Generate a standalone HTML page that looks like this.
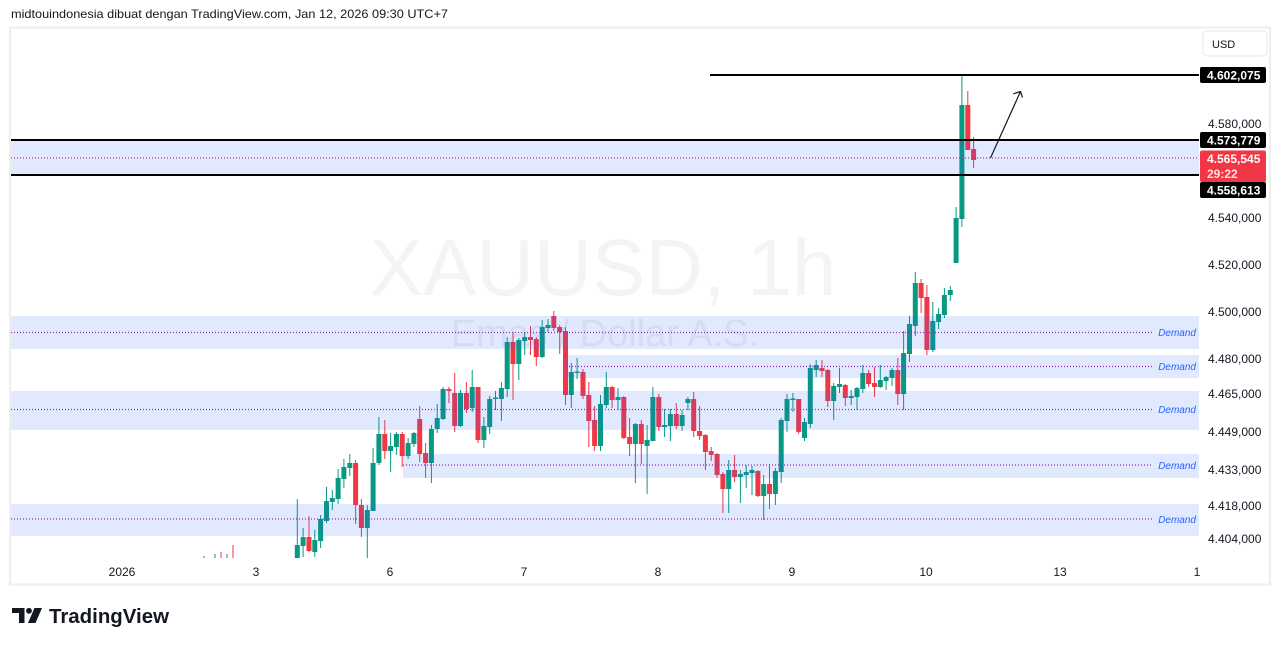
<!DOCTYPE html>
<html><head><meta charset="utf-8"><style>
html,body{margin:0;padding:0;background:#fff;}
svg{display:block;font-family:"Liberation Sans",Arial,sans-serif;}
</style></head><body>
<svg width="1281" height="646" viewBox="0 0 1281 646" xmlns="http://www.w3.org/2000/svg">
<defs><clipPath id="plot"><rect x="11" y="28" width="1188" height="530"/></clipPath></defs>
<rect width="1281" height="646" fill="#fff"/>
<text x="11" y="18" font-size="12" fill="#131722" textLength="437" lengthAdjust="spacingAndGlyphs">midtouindonesia dibuat dengan TradingView.com, Jan 12, 2026 09:30 UTC+7</text>
<rect x="10" y="27.5" width="1260" height="557" fill="none" stroke="#eeeeee" stroke-width="2"/>
<g clip-path="url(#plot)">
<text x="603" y="295" font-size="80" fill="#f4f4f4" text-anchor="middle">XAUUSD, 1h</text>
<text x="605" y="346" font-size="38" fill="#f0f0f0" text-anchor="middle">Emas / Dollar A.S.</text>
<g fill="#089981">
<rect x="203.5" y="556" width="1" height="2"/><rect x="214.5" y="554" width="1" height="4"/><rect x="226.5" y="554" width="1" height="4"/>
<rect x="294.8" y="545" width="5" height="13"/><rect x="296.8" y="499" width="1" height="59"/>
<rect x="300.6" y="537" width="5" height="9"/><rect x="302.6" y="528" width="1" height="29"/>
<rect x="312.3" y="540" width="5" height="12"/><rect x="314.3" y="530" width="1" height="27"/>
<rect x="318.1" y="519" width="5" height="22"/><rect x="320.1" y="515" width="1" height="33"/>
<rect x="324" y="501" width="5" height="20"/><rect x="326" y="487" width="1" height="36"/>
<rect x="329.8" y="498" width="5" height="4"/><rect x="331.8" y="490" width="1" height="20"/>
<rect x="335.6" y="478" width="5" height="21"/><rect x="337.6" y="469" width="1" height="35"/>
<rect x="341.4" y="467" width="5" height="12"/><rect x="343.4" y="459" width="1" height="29"/>
<rect x="347.3" y="463" width="5" height="5"/><rect x="349.3" y="454" width="1" height="22"/>
<rect x="364.8" y="510" width="5" height="18"/><rect x="366.8" y="505" width="1" height="53"/>
<rect x="370.6" y="463" width="5" height="48"/><rect x="372.6" y="448" width="1" height="63"/>
<rect x="376.4" y="434" width="5" height="29"/><rect x="378.4" y="417" width="1" height="48"/>
<rect x="388.1" y="446" width="5" height="5"/><rect x="390.1" y="433" width="1" height="39"/>
<rect x="393.9" y="434" width="5" height="13"/><rect x="395.9" y="432" width="1" height="23"/>
<rect x="405.6" y="443" width="5" height="13"/><rect x="407.6" y="438" width="1" height="21"/>
<rect x="411.4" y="433" width="5" height="11"/><rect x="413.4" y="432" width="1" height="15"/>
<rect x="428.9" y="429" width="5" height="34"/><rect x="430.9" y="425" width="1" height="58"/>
<rect x="434.7" y="418" width="5" height="11"/><rect x="436.7" y="404" width="1" height="29"/>
<rect x="440.6" y="389" width="5" height="30"/><rect x="442.6" y="387" width="1" height="33"/>
<rect x="458" y="393" width="5" height="33"/><rect x="460" y="390" width="1" height="37"/>
<rect x="469.7" y="387" width="5" height="21"/><rect x="471.7" y="370" width="1" height="42"/>
<rect x="481.4" y="426" width="5" height="14"/><rect x="483.4" y="417" width="1" height="31"/>
<rect x="487.2" y="399" width="5" height="28"/><rect x="489.2" y="396" width="1" height="38"/>
<rect x="493" y="397.5" width="5" height="1.5"/><rect x="495" y="391" width="1" height="19"/>
<rect x="498.9" y="388" width="5" height="11"/><rect x="500.9" y="382" width="1" height="39"/>
<rect x="504.7" y="342" width="5" height="47"/><rect x="506.7" y="337" width="1" height="60"/>
<rect x="516.3" y="340" width="5" height="24"/><rect x="518.3" y="338" width="1" height="42"/>
<rect x="522.2" y="337" width="5" height="4"/><rect x="524.2" y="332" width="1" height="23"/>
<rect x="539.7" y="327" width="5" height="30"/><rect x="541.7" y="320" width="1" height="38"/>
<rect x="545.5" y="325" width="5" height="3"/><rect x="547.5" y="319" width="1" height="13"/>
<rect x="568.8" y="372" width="5" height="23"/><rect x="570.8" y="363" width="1" height="45"/>
<rect x="574.6" y="371.5" width="5" height="1.5"/><rect x="576.6" y="358" width="1" height="21"/>
<rect x="598" y="404" width="5" height="42"/><rect x="600" y="395" width="1" height="56"/>
<rect x="603.8" y="387" width="5" height="18"/><rect x="605.8" y="372" width="1" height="36"/>
<rect x="615.5" y="397" width="5" height="3"/><rect x="617.5" y="388" width="1" height="22"/>
<rect x="632.9" y="424" width="5" height="20"/><rect x="634.9" y="423" width="1" height="60"/>
<rect x="644.6" y="440" width="5" height="6"/><rect x="646.6" y="425" width="1" height="69"/>
<rect x="650.4" y="397" width="5" height="44"/><rect x="652.4" y="387" width="1" height="54"/>
<rect x="662.1" y="425" width="5" height="2"/><rect x="664.1" y="409" width="1" height="28"/>
<rect x="667.9" y="414" width="5" height="12"/><rect x="669.9" y="409" width="1" height="32"/>
<rect x="679.6" y="415" width="5" height="11"/><rect x="681.6" y="410" width="1" height="21"/>
<rect x="685.4" y="399" width="5" height="4"/><rect x="687.4" y="397" width="1" height="13"/>
<rect x="726.2" y="470" width="5" height="19"/><rect x="728.2" y="460" width="1" height="53"/>
<rect x="737.9" y="474" width="5" height="3"/><rect x="739.9" y="470" width="1" height="33"/>
<rect x="743.7" y="472" width="5" height="3"/><rect x="745.7" y="465" width="1" height="23"/>
<rect x="749.5" y="470" width="5" height="3"/><rect x="751.5" y="466" width="1" height="29"/>
<rect x="761.2" y="484" width="5" height="12"/><rect x="763.2" y="475" width="1" height="45"/>
<rect x="772.9" y="471" width="5" height="23"/><rect x="774.9" y="468" width="1" height="37"/>
<rect x="778.7" y="420" width="5" height="52"/><rect x="780.7" y="418" width="1" height="65"/>
<rect x="784.5" y="399" width="5" height="22"/><rect x="786.5" y="394" width="1" height="38"/>
<rect x="790.4" y="398.5" width="5" height="1.5"/><rect x="792.4" y="393" width="1" height="19"/>
<rect x="802" y="422" width="5" height="16"/><rect x="804" y="418" width="1" height="23"/>
<rect x="807.8" y="368" width="5" height="56"/><rect x="809.8" y="364" width="1" height="64"/>
<rect x="813.7" y="365" width="5" height="5"/><rect x="815.7" y="360" width="1" height="17"/>
<rect x="831.2" y="386" width="5" height="15"/><rect x="833.2" y="383" width="1" height="37"/>
<rect x="837" y="384" width="5" height="3"/><rect x="839" y="368" width="1" height="25"/>
<rect x="848.7" y="396" width="5" height="2"/><rect x="850.7" y="390" width="1" height="15"/>
<rect x="854.5" y="388" width="5" height="9"/><rect x="856.5" y="387" width="1" height="23"/>
<rect x="860.3" y="373" width="5" height="16"/><rect x="862.3" y="365" width="1" height="28"/>
<rect x="877.8" y="380" width="5" height="7"/><rect x="879.8" y="365" width="1" height="23"/>
<rect x="883.6" y="377" width="5" height="4"/><rect x="885.6" y="376" width="1" height="14"/>
<rect x="889.5" y="370" width="5" height="8"/><rect x="891.5" y="368" width="1" height="18"/>
<rect x="901.1" y="353" width="5" height="41"/><rect x="903.1" y="331" width="1" height="79"/>
<rect x="907" y="324" width="5" height="30"/><rect x="909" y="316" width="1" height="46"/>
<rect x="912.8" y="283" width="5" height="43"/><rect x="914.8" y="272" width="1" height="64"/>
<rect x="930.3" y="321" width="5" height="29"/><rect x="932.3" y="302" width="1" height="50"/>
<rect x="936.1" y="314" width="5" height="8"/><rect x="938.1" y="308" width="1" height="21"/>
<rect x="941.9" y="295" width="5" height="20"/><rect x="943.9" y="288" width="1" height="30"/>
<rect x="947.8" y="290" width="5" height="5"/><rect x="949.8" y="286" width="1" height="15"/>
<rect x="953.6" y="218" width="5" height="45"/><rect x="955.6" y="207" width="1" height="56"/>
<rect x="959.4" y="105" width="5" height="114"/><rect x="961.4" y="75" width="1" height="152"/>
</g>
<g fill="#f23645">
<rect x="220.5" y="552" width="1" height="6"/><rect x="232.5" y="545" width="1" height="13"/>
<rect x="306.5" y="537" width="5" height="14"/><rect x="308.5" y="516" width="1" height="36"/>
<rect x="353.1" y="463" width="5" height="42"/><rect x="355.1" y="460" width="1" height="64"/>
<rect x="358.9" y="505" width="5" height="23"/><rect x="360.9" y="499" width="1" height="38"/>
<rect x="382.3" y="434" width="5" height="17"/><rect x="384.3" y="420" width="1" height="39"/>
<rect x="399.7" y="434" width="5" height="22"/><rect x="401.7" y="432" width="1" height="35"/>
<rect x="417.2" y="419" width="5" height="35"/><rect x="419.2" y="406" width="1" height="56"/>
<rect x="423.1" y="453" width="5" height="10"/><rect x="425.1" y="443" width="1" height="35"/>
<rect x="446.4" y="389" width="5" height="2"/><rect x="448.4" y="387" width="1" height="16"/>
<rect x="452.2" y="393" width="5" height="33"/><rect x="454.2" y="373" width="1" height="59"/>
<rect x="463.9" y="393" width="5" height="16"/><rect x="465.9" y="382" width="1" height="31"/>
<rect x="475.5" y="387" width="5" height="53"/><rect x="477.5" y="387" width="1" height="56"/>
<rect x="510.5" y="342" width="5" height="22"/><rect x="512.5" y="332" width="1" height="68"/>
<rect x="528" y="337" width="5" height="3"/><rect x="530" y="326" width="1" height="29"/>
<rect x="533.8" y="339" width="5" height="18"/><rect x="535.8" y="337" width="1" height="29"/>
<rect x="551.3" y="316" width="5" height="12"/><rect x="553.3" y="311" width="1" height="20"/>
<rect x="557.2" y="327" width="5" height="5"/><rect x="559.2" y="325" width="1" height="29"/>
<rect x="563" y="331" width="5" height="64"/><rect x="565" y="327" width="1" height="78"/>
<rect x="580.5" y="372" width="5" height="24"/><rect x="582.5" y="369" width="1" height="30"/>
<rect x="586.3" y="395" width="5" height="26"/><rect x="588.3" y="382" width="1" height="65"/>
<rect x="592.1" y="420" width="5" height="26"/><rect x="594.1" y="406" width="1" height="45"/>
<rect x="609.6" y="387" width="5" height="13"/><rect x="611.6" y="386" width="1" height="22"/>
<rect x="621.3" y="397" width="5" height="41"/><rect x="623.3" y="396" width="1" height="43"/>
<rect x="627.1" y="437" width="5" height="7"/><rect x="629.1" y="418" width="1" height="38"/>
<rect x="638.8" y="424" width="5" height="20"/><rect x="640.8" y="420" width="1" height="44"/>
<rect x="656.3" y="397" width="5" height="30"/><rect x="658.3" y="394" width="1" height="37"/>
<rect x="673.8" y="414" width="5" height="12"/><rect x="675.8" y="403" width="1" height="26"/>
<rect x="691.2" y="399" width="5" height="32"/><rect x="693.2" y="392" width="1" height="45"/>
<rect x="697.1" y="431" width="5" height="5"/><rect x="699.1" y="406" width="1" height="34"/>
<rect x="702.9" y="435" width="5" height="17"/><rect x="704.9" y="434" width="1" height="36"/>
<rect x="708.7" y="451" width="5" height="4"/><rect x="710.7" y="447" width="1" height="14"/>
<rect x="714.6" y="454" width="5" height="21"/><rect x="716.6" y="453" width="1" height="25"/>
<rect x="720.4" y="474" width="5" height="15"/><rect x="722.4" y="472" width="1" height="41"/>
<rect x="732.1" y="470" width="5" height="7"/><rect x="734.1" y="455" width="1" height="27"/>
<rect x="755.4" y="471" width="5" height="25"/><rect x="757.4" y="470" width="1" height="27"/>
<rect x="767" y="484" width="5" height="10"/><rect x="769" y="464" width="1" height="45"/>
<rect x="796.2" y="399" width="5" height="33"/><rect x="798.2" y="399" width="1" height="35"/>
<rect x="819.5" y="368" width="5" height="3"/><rect x="821.5" y="360" width="1" height="17"/>
<rect x="825.3" y="370" width="5" height="31"/><rect x="827.3" y="369" width="1" height="38"/>
<rect x="842.8" y="385" width="5" height="13"/><rect x="844.8" y="384" width="1" height="22"/>
<rect x="866.1" y="373" width="5" height="11"/><rect x="868.1" y="370" width="1" height="17"/>
<rect x="872" y="383" width="5" height="4"/><rect x="874" y="367" width="1" height="30"/>
<rect x="895.3" y="370" width="5" height="24"/><rect x="897.3" y="358" width="1" height="47"/>
<rect x="918.6" y="283" width="5" height="15"/><rect x="920.6" y="279" width="1" height="34"/>
<rect x="924.4" y="297" width="5" height="53"/><rect x="926.4" y="285" width="1" height="70"/>
<rect x="965.3" y="105" width="5" height="45"/><rect x="967.3" y="91" width="1" height="59"/>
<rect x="971.1" y="149" width="5" height="11"/><rect x="973.1" y="137" width="1" height="31"/>
</g>
<g fill="rgb(41,98,255)" fill-opacity="0.14">
<rect x="11" y="140" width="1188" height="35"/>
<rect x="11" y="316" width="1188" height="33"/>
<rect x="566" y="355" width="633" height="23"/>
<rect x="11" y="391" width="1188" height="39"/>
<rect x="403" y="454" width="796" height="24"/>
<rect x="11" y="504" width="1188" height="32"/>
</g>
<g stroke="#9c27b0" stroke-width="1.2" stroke-dasharray="1 2" fill="none">
<line x1="11" y1="332.5" x2="1153" y2="332.5"/>
<line x1="566" y1="366.5" x2="1153" y2="366.5"/>
<line x1="11" y1="409.5" x2="1153" y2="409.5"/>
<line x1="403" y1="465" x2="1153" y2="465"/>
<line x1="11" y1="519" x2="1153" y2="519"/>
</g>
<line x1="11" y1="158" x2="1199" y2="158" stroke="#b5338a" stroke-width="1.2" stroke-dasharray="1 2"/>
<g fill="#2962ff" font-size="10" font-style="italic" text-anchor="end">
<text x="1196" y="336">Demand</text>
<text x="1196" y="370">Demand</text>
<text x="1196" y="413">Demand</text>
<text x="1196" y="469">Demand</text>
<text x="1196" y="523">Demand</text>
</g>
<g stroke="#000" stroke-width="2">
<line x1="710" y1="75" x2="1199" y2="75"/>
<line x1="11" y1="140" x2="1199" y2="140"/>
<line x1="11" y1="175" x2="1199" y2="175"/>
</g>
<g stroke="#131722" stroke-width="1.2" fill="none">
<line x1="990.5" y1="158" x2="1020.5" y2="91.5"/>
<polyline points="1013.3,93.8 1020.5,91.5 1022.5,97.5"/>
</g>
</g>
<rect x="1203" y="31" width="64" height="25" rx="4" fill="#fff" stroke="#e6e6e6"/>
<text x="1212" y="48" font-size="11" fill="#131722">USD</text>
<g font-size="12" fill="#131722">
<text x="1208" y="128">4.580,000</text>
<text x="1208" y="222">4.540,000</text>
<text x="1208" y="269">4.520,000</text>
<text x="1208" y="316">4.500,000</text>
<text x="1208" y="363">4.480,000</text>
<text x="1208" y="398">4.465,000</text>
<text x="1208" y="436">4.449,000</text>
<text x="1208" y="474">4.433,000</text>
<text x="1208" y="510">4.418,000</text>
<text x="1208" y="543">4.404,000</text>
</g>
<rect x="1200" y="67" width="66" height="16" rx="2" fill="#000"/>
<rect x="1200" y="132" width="66" height="16" rx="2" fill="#000"/>
<rect x="1200" y="150.5" width="66" height="31.5" rx="2" fill="#f23645"/>
<rect x="1200" y="182" width="66" height="16" rx="2" fill="#000"/>
<g font-size="12" font-weight="bold" fill="#fff">
<text x="1207" y="79.5">4.602,075</text>
<text x="1207" y="144.5">4.573,779</text>
<text x="1207" y="163">4.565,545</text>
<text x="1207" y="194.5">4.558,613</text>
</g>
<text x="1207" y="178" font-size="12" font-weight="bold" fill="#ffdfe3">29:22</text>
<g font-size="12" fill="#131722" text-anchor="middle">
<text x="122" y="576">2026</text>
<text x="256" y="576">3</text>
<text x="390" y="576">6</text>
<text x="524" y="576">7</text>
<text x="658" y="576">8</text>
<text x="792" y="576">9</text>
<text x="926" y="576">10</text>
<text x="1060" y="576">13</text>
<text x="1197" y="576">1</text>
</g>
<g fill="#131722">
<rect x="12" y="608" width="12" height="5"/>
<rect x="19" y="608" width="5.5" height="15"/>
<circle cx="29" cy="610.8" r="2.9"/>
<polygon points="34.5,608 42,608 35.5,623 28,623"/>
<text x="49" y="623" font-size="20" font-weight="bold" textLength="120" lengthAdjust="spacingAndGlyphs">TradingView</text>
</g>
</svg>
</body></html>
